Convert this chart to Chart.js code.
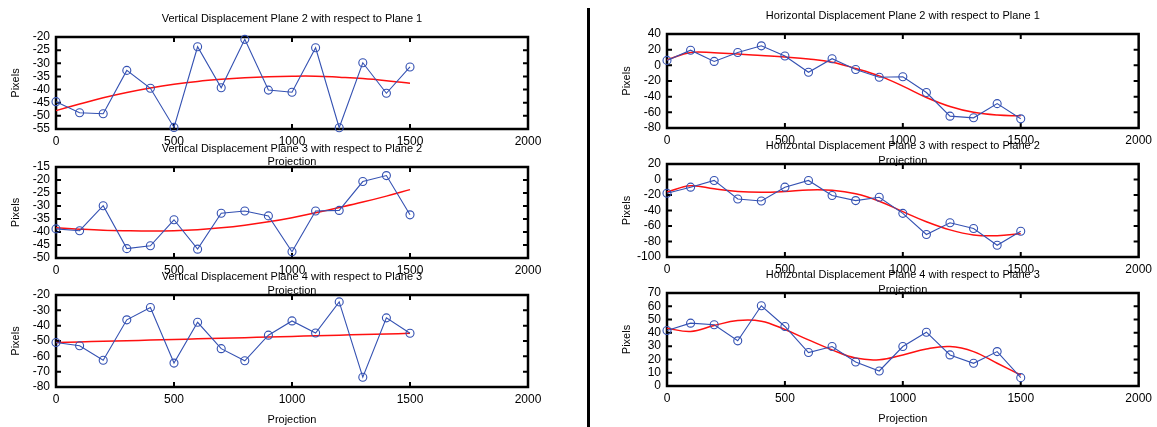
<!DOCTYPE html>
<html>
<head>
<meta charset="utf-8">
<script src="https://cdn.jsdelivr.net/npm/chart.js@4.4.1/dist/chart.umd.min.js"></script>
<style>
  body { margin: 0; background: #fff; width: 1157px; height: 427px; position: relative; overflow: hidden; }
  canvas { position: absolute; }
  #divider { position: absolute; left: 587px; top: 8px; width: 3px; height: 419px; background: #000; }
</style>
</head>
<body>
<div id="divider"></div>
<script>
// projection index (x) shared by every panel
const projections = [0, 100, 200, 300, 400, 500, 600, 700, 800, 900, 1000, 1100, 1200, 1300, 1400, 1500];
const xTicks = [0, 500, 1000, 1500, 2000];

// measured displacements (blue) and fitted curves (red)
const vert21 = [-44.6, -48.8, -49.2, -32.7, -39.5, -54.4, -23.7, -39.3, -20.9, -40.2, -41.0, -24.1, -54.5, -29.8, -41.4, -31.4];
const vert21Fit = [-48.0, -45.5, -43.1, -41.1, -39.4, -38.0, -36.9, -36.1, -35.5, -35.1, -34.9, -34.9, -35.3, -35.8, -36.6, -37.6];

const vert32 = [-38.8, -39.5, -29.9, -46.4, -45.3, -35.3, -46.6, -32.8, -31.9, -33.8, -47.6, -31.9, -31.7, -20.6, -18.3, -33.4];
const vert32Fit = [-38.4, -38.9, -39.3, -39.5, -39.6, -39.5, -39.1, -38.4, -37.4, -36.1, -34.5, -32.6, -30.6, -28.5, -26.2, -23.7];

const vert43 = [-51.0, -53.1, -62.6, -36.2, -28.2, -64.4, -37.8, -55.0, -62.9, -46.2, -36.9, -44.8, -24.5, -73.6, -34.9, -44.9];
const vert43Fit = [-51.0, -50.6, -50.2, -49.8, -49.4, -49.0, -48.6, -48.2, -47.8, -47.4, -47.0, -46.6, -46.2, -45.8, -45.4, -45.0];

const horiz21 = [6.3, 19.3, 5.0, 16.3, 24.9, 11.9, -8.8, 8.5, -5.3, -15.2, -14.6, -34.7, -64.9, -67.0, -48.9, -68.3];
const horiz21Fit = [7.0, 16.5, 16.0, 14.5, 12.5, 10.5, 8.0, 4.0, -4.0, -13.5, -26.5, -41.0, -52.5, -60.0, -63.5, -64.5];

const horiz32 = [-17.7, -9.9, -1.2, -25.1, -27.7, -9.9, -1.2, -20.7, -27.2, -22.9, -43.7, -71.0, -55.8, -63.2, -84.9, -66.7];
const horiz32Fit = [-16.0, -8.0, -12.0, -15.5, -16.5, -15.5, -13.5, -14.0, -18.5, -28.0, -41.5, -54.5, -65.0, -71.5, -72.5, -70.0];

const horiz43 = [41.8, 47.3, 46.1, 34.0, 60.4, 44.8, 25.2, 29.7, 18.1, 11.3, 29.7, 40.5, 23.4, 17.1, 25.9, 6.3];
const horiz43Fit = [43.5, 41.0, 45.5, 49.3, 48.8, 42.5, 34.7, 27.2, 21.0, 19.8, 23.4, 27.9, 29.7, 25.9, 17.1, 8.3];

const titles = [
  'Vertical Displacement Plane 2 with respect to Plane 1',
  'Vertical Displacement Plane 3 with respect to Plane 2',
  'Vertical Displacement Plane 4 with respect to Plane 3',
  'Horizontal Displacement Plane 2 with respect to Plane 1',
  'Horizontal Displacement Plane 3 with respect to Plane 2',
  'Horizontal Displacement Plane 4 with respect to Plane 3'
];

const yRanges = [
  { min: -55, max: -20, step: 5 },
  { min: -50, max: -15, step: 5 },
  { min: -80, max: -20, step: 10 },
  { min: -80, max: 40, step: 20 },
  { min: -100, max: 20, step: 20 },
  { min: 0, max: 70, step: 10 }
];

const series = [
  [vert21, vert21Fit], [vert32, vert32Fit], [vert43, vert43Fit],
  [horiz21, horiz21Fit], [horiz32, horiz32Fit], [horiz43, horiz43Fit]
];

// plot rectangles on the page: left, top, right, bottom
const areas = [
  [56, 37, 528, 129], [56, 167, 528, 258], [56, 295, 528, 387],
  [667, 34, 1139, 128], [667, 164, 1139, 257], [667, 293, 1139, 386]
];

const FONT = '"Liberation Sans", Arial, Helvetica, sans-serif';
const BLUE = '#3451b2';
const RED = '#ff1010';

const framePlugin = {
  id: 'frame',
  beforeDatasetsDraw(chart) {
    const { ctx, chartArea: a, scales: { x, y } } = chart;
    ctx.save();
    ctx.strokeStyle = '#000';
    ctx.lineWidth = 2;
    ctx.beginPath();
    x.ticks.forEach(t => {
      const px = x.getPixelForValue(t.value);
      if (px <= a.left + 1 || px >= a.right - 1) return;
      ctx.moveTo(px, a.top); ctx.lineTo(px, a.top + 5);
      ctx.moveTo(px, a.bottom); ctx.lineTo(px, a.bottom - 5);
    });
    y.ticks.forEach(t => {
      const py = y.getPixelForValue(t.value);
      if (py <= a.top + 1 || py >= a.bottom - 1) return;
      ctx.moveTo(a.left, py); ctx.lineTo(a.left + 5, py);
      ctx.moveTo(a.right, py); ctx.lineTo(a.right - 5, py);
    });
    ctx.stroke();
    ctx.lineWidth = 2.5;
    ctx.strokeRect(a.left, a.top, a.right - a.left, a.bottom - a.top);
    ctx.restore();
  }
};

function pairs(values) {
  return values.map((v, i) => ({ x: projections[i], y: v }));
}

function makePanel(i) {
  const [left, top, right, bottom] = areas[i];
  const isRight = left > 300;
  const canvasLeft = isRight ? 590 : 0;
  const canvasWidth = isRight ? 567 : 585;
  const canvasTop = top - 37;
  const canvasHeight = bottom - canvasTop + 44;
  const yWidth = 47;
  const xHeight = 39.6;

  const canvas = document.createElement('canvas');
  canvas.width = canvasWidth;
  canvas.height = canvasHeight;
  canvas.style.left = canvasLeft + 'px';
  canvas.style.top = canvasTop + 'px';
  document.body.appendChild(canvas);

  const [points, fit] = series[i];
  const range = yRanges[i];
  const yTicks = [];
  for (let v = range.min; v <= range.max; v += range.step) yTicks.push(v);

  new Chart(canvas, {
    type: 'line',
    data: {
      datasets: [
        {
          data: pairs(fit),
          borderColor: RED,
          borderWidth: 1.5,
          pointRadius: 0,
          tension: 0.4,
          clip: false,
          order: 2
        },
        {
          data: pairs(points),
          borderColor: BLUE,
          borderWidth: 1.1,
          pointRadius: 4,
          pointBorderWidth: 1.1,
          pointBorderColor: BLUE,
          pointBackgroundColor: 'rgba(0,0,0,0)',
          tension: 0,
          clip: false,
          order: 1
        }
      ]
    },
    options: {
      responsive: false,
      animation: false,
      devicePixelRatio: 1,
      layout: {
        padding: {
          left: left - canvasLeft - yWidth,
          right: canvasLeft + canvasWidth - right,
          top: 0,
          bottom: canvasHeight - (bottom - canvasTop) - xHeight
        }
      },
      plugins: {
        legend: { display: false },
        tooltip: { enabled: false },
        title: {
          display: true,
          text: titles[i],
          fullSize: false,
          color: '#000',
          font: { family: FONT, size: 11, weight: 'normal' },
          padding: { top: 12, bottom: 11.8 }
        }
      },
      scales: {
        x: {
          type: 'linear',
          min: 0,
          max: 2000,
          afterBuildTicks: s => { s.ticks = xTicks.map(v => ({ value: v })); },
          afterFit: s => { s.height = xHeight; },
          grid: { display: false, drawTicks: false },
          border: { display: false },
          ticks: {
            color: '#000', padding: 5, maxRotation: 0, autoSkip: false,
            font: { family: FONT, size: 12 },
            callback: v => String(v)
          },
          title: {
            display: true,
            text: 'Projection',
            color: '#000',
            padding: 0,
            font: { family: FONT, size: 11 }
          }
        },
        y: {
          type: 'linear',
          min: range.min,
          max: range.max,
          afterBuildTicks: s => { s.ticks = yTicks.map(v => ({ value: v })); },
          ticks: {
            color: '#000', padding: 6, autoSkip: false,
            font: { family: FONT, size: 12 },
            callback: v => String(v)
          },
          afterFit: s => { s.width = yWidth; },
          grid: { display: false, drawTicks: false },
          border: { display: false },
          title: {
            display: true,
            text: 'Pixels',
            color: '#000',
            padding: 0,
            font: { family: FONT, size: 11 }
          }
        }
      }
    },
    plugins: [framePlugin]
  });
}

titles.forEach((t, i) => makePanel(i));
</script>
</body>
</html>
